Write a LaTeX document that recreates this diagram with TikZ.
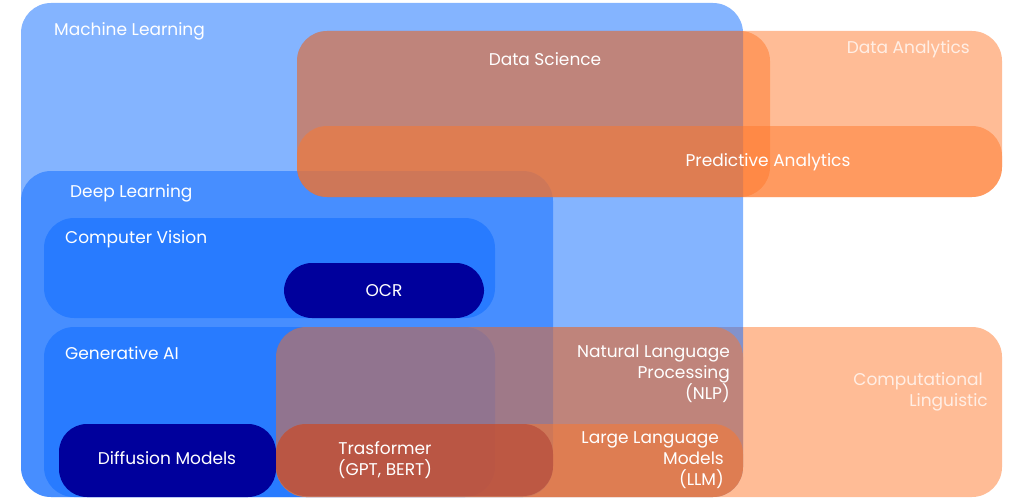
\documentclass[tikz,border=0pt]{standalone}
\usepackage{fontspec}
\setmainfont{Poppins}
\definecolor{mlblue}{RGB}{10,105,255}
\definecolor{orng}{RGB}{255,119,41}
\definecolor{navyc}{RGB}{0,0,156}
\definecolor{trred}{RGB}{173,56,45}
\begin{document}
\begin{tikzpicture}[x=1pt,y=-1pt,
  bluebox/.style={fill=mlblue, fill opacity=0.5, rounded corners=30pt},
  orbox/.style={fill=orng, fill opacity=0.49, rounded corners=30pt},
  navybox/.style={fill=navyc, rounded corners=28pt},
  redbox/.style={fill=trred, fill opacity=0.49, rounded corners=30pt},
  lbl/.style={text=white, font=\fontsize{17}{21}\selectfont, inner sep=0pt},
  faint/.style={lbl, text opacity=0.75}]
\useasboundingbox (0,0) rectangle (1024,500);
% bottom orange layers
\fill[orbox] (297,31) rectangle (1002,197);   % Data Analytics
\fill[orbox] (276,327) rectangle (1002,497);  % Computational Linguistic
% blue layers
\fill[bluebox] (21,3) rectangle (743,497);    % Machine Learning
\fill[bluebox] (21,171) rectangle (553,497);  % Deep Learning
\fill[bluebox] (44,218) rectangle (495,318);  % Computer Vision
\fill[bluebox] (44,327) rectangle (495,497);  % Generative AI
\fill[navybox] (284,263) rectangle (484,318); % OCR
\fill[navybox] (59,424) rectangle (276,497);  % Diffusion
% top orange layers
\fill[orbox] (297,31) rectangle (770,197);    % Data Science
\fill[orbox] (297,126) rectangle (1002,197);  % Predictive Analytics
\fill[orbox] (276,327) rectangle (743,497);   % NLP
\fill[orbox] (276,424) rectangle (743,497);   % LLM
\fill[redbox] (276,424) rectangle (553,496);  % Transformer
% labels
\node[lbl, anchor=west] (tml) at (54,31) {Machine Learning};
\node[lbl] (tds) at (545,59) {Data Science};
\node[faint, anchor=east] (tda) at (970,49) {Data Analytics};
\node[lbl] (tpa) at (768,162) {Predictive Analytics};
\node[lbl, anchor=west] (tdl) at (70,193) {Deep Learning};
\node[lbl, anchor=west] (tcv) at (65,239) {Computer Vision};
\node[lbl] (tocr) at (384,291) {OCR};
\node[lbl, anchor=west] (tgen) at (65,353) {Generative AI};
\node[lbl] (tdiff) at (167,458) {Diffusion Models};
\node[lbl, align=center] (ttr) at (385,460) {Trasformer\\(GPT, BERT)};
\node[lbl, align=right, anchor=east] (tnlp) at (730,374) {Natural Language\\Processing\\(NLP)};
\node[lbl, align=right, anchor=east] (tllm) at (724,460) {Large Language\hspace*{5pt}\\Models\\(LLM)};
\node[faint, align=right, anchor=east] (tcl) at (988,392) {Computational\hspace*{5pt}\\Linguistic};
\end{tikzpicture}
\end{document}
